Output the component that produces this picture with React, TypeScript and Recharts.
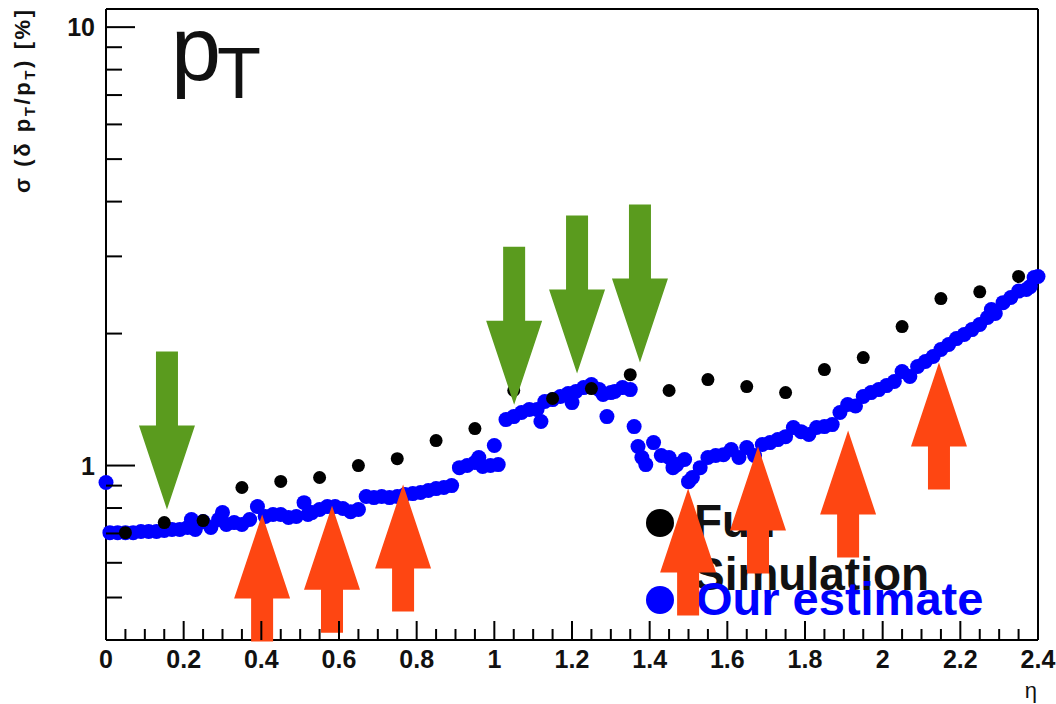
import React from 'react';
import { ScatterChart, Scatter, XAxis, YAxis, ReferenceLine } from 'recharts';

// Full simulation, one point per 0.1 bin in eta
const fullSimEta = [0.05, 0.15, 0.25, 0.35, 0.45, 0.55, 0.65, 0.75, 0.85, 0.95, 1.05, 1.15, 1.25, 1.35, 1.45, 1.55, 1.65, 1.75, 1.85, 1.95, 2.05, 2.15, 2.25, 2.35];
const fullSimSigma = [0.703, 0.741, 0.749, 0.891, 0.92, 0.939, 1.0, 1.037, 1.14, 1.214, 1.483, 1.422, 1.498, 1.612, 1.483, 1.571, 1.514, 1.467, 1.655, 1.763, 2.075, 2.403, 2.49, 2.7];

// Our estimate, finer binning
const estimateEta = [
  0.0, 0.01, 0.03, 0.05, 0.07, 0.09, 0.11, 0.13, 0.15, 0.17, 0.19, 0.21, 0.22, 0.23, 0.25, 0.27, 0.29, 0.3, 0.31, 0.33,
  0.35, 0.37, 0.39, 0.41, 0.43, 0.45, 0.47, 0.49, 0.51, 0.52, 0.53, 0.55, 0.57, 0.59, 0.61, 0.63, 0.65, 0.67, 0.69, 0.71,
  0.73, 0.75, 0.77, 0.79, 0.81, 0.83, 0.85, 0.87, 0.89, 0.91, 0.93, 0.95, 0.96, 0.97, 0.99, 1.0, 1.01, 1.03, 1.05, 1.07,
  1.09, 1.11, 1.12, 1.13, 1.15, 1.17, 1.19, 1.2, 1.21, 1.23, 1.25, 1.27, 1.28, 1.29, 1.3, 1.31, 1.33, 1.35, 1.36, 1.37,
  1.38, 1.39, 1.41, 1.43, 1.45, 1.46, 1.47, 1.49, 1.5, 1.51, 1.53, 1.55, 1.57, 1.59, 1.61, 1.63, 1.65, 1.67, 1.69, 1.71,
  1.73, 1.75, 1.77, 1.79, 1.81, 1.83, 1.85, 1.87, 1.89, 1.91, 1.93, 1.95, 1.97, 1.99, 2.01, 2.03, 2.05, 2.07, 2.09, 2.11,
  2.13, 2.15, 2.17, 2.19, 2.21, 2.23, 2.25, 2.27, 2.28, 2.29, 2.31, 2.33, 2.35, 2.37, 2.38, 2.39, 2.4,
];
const estimateSigma = [
  0.915, 0.703, 0.703, 0.703, 0.703, 0.707, 0.707, 0.707, 0.711, 0.715, 0.715, 0.722, 0.753, 0.715, 0.745, 0.722, 0.753, 0.781, 0.734, 0.741,
  0.734, 0.753, 0.806, 0.765, 0.773, 0.773, 0.761, 0.765, 0.823, 0.773, 0.781, 0.794, 0.806, 0.806, 0.798, 0.785, 0.794, 0.85, 0.845, 0.85,
  0.845, 0.85, 0.859, 0.863, 0.868, 0.877, 0.886, 0.891, 0.9, 0.989, 1.0, 1.016, 1.043, 0.995, 1.0, 1.111, 1.005, 1.273, 1.293, 1.321,
  1.342, 1.342, 1.26, 1.4, 1.414, 1.437, 1.46, 1.392, 1.475, 1.506, 1.53, 1.49, 1.452, 1.293, 1.467, 1.475, 1.506, 1.49, 1.227, 1.105,
  1.043, 1.005, 1.128, 1.054, 1.043, 0.989, 1.005, 1.032, 0.919, 0.939, 0.989, 1.043, 1.054, 1.059, 1.088, 1.043, 1.099, 1.054, 1.117, 1.128,
  1.146, 1.164, 1.221, 1.195, 1.177, 1.221, 1.227, 1.24, 1.321, 1.378, 1.367, 1.437, 1.467, 1.49, 1.522, 1.555, 1.638, 1.596, 1.682, 1.727,
  1.773, 1.839, 1.888, 1.948, 1.99, 2.042, 2.097, 2.176, 2.269, 2.222, 2.353, 2.417, 2.5, 2.52, 2.56, 2.684, 2.7,
];

// Arrow annotations: tip position in (eta, sigma)
const downArrowEta = [0.157, 1.051, 1.213, 1.375];
const downArrowSigma = [0.794, 1.377, 1.621, 1.718];
const upArrowEta = [0.402, 0.582, 0.765, 1.499, 1.679, 1.911, 2.145];
const upArrowSigma = [0.773, 0.81, 0.905, 0.886, 1.105, 1.202, 1.718];

const xTicks = [
  0, 0.05, 0.1, 0.15, 0.2, 0.25, 0.3, 0.35, 0.4, 0.45, 0.5, 0.55, 0.6, 0.65, 0.7, 0.75, 0.8, 0.85, 0.9, 0.95,
  1, 1.05, 1.1, 1.15, 1.2, 1.25, 1.3, 1.35, 1.4, 1.45, 1.5, 1.55, 1.6, 1.65, 1.7, 1.75, 1.8, 1.85, 1.9, 1.95,
  2, 2.05, 2.1, 2.15, 2.2, 2.25, 2.3, 2.35, 2.4,
];
const yTicks = [0.5, 0.6, 0.7, 0.8, 0.9, 1, 2, 3, 4, 5, 6, 7, 8, 9, 10];
const yLabelled = [1, 10];

const FONT = '"Liberation Sans", Arial, Helvetica, sans-serif';
const BLUE = '#0000ff';
const GREEN = '#5a9b1e';
const ORANGE = '#fe4612';

const zip = (xs: number[], ys: number[]) => xs.map((eta, i) => ({ eta, sigma: ys[i] }));

const XTick = (props: any) => {
  const { x, y, payload } = props;
  const v: number = payload.value;
  const major = Math.abs(v * 5 - Math.round(v * 5)) < 1e-6;
  const label = Number.isInteger(v) ? String(v) : v.toFixed(1);
  return (
    <g>
      <line x1={x} x2={x} y1={y} y2={y - (major ? 19 : 11)} stroke="#000" strokeWidth={2} />
      {major && (
        <text x={x} y={y + 28} textAnchor="middle" fontFamily={FONT} fontWeight="bold" fontSize={25} fill="#111">
          {label}
        </text>
      )}
    </g>
  );
};

const YTick = (props: any) => {
  const { x, y, payload } = props;
  const v: number = payload.value;
  const major = yLabelled.includes(v);
  return (
    <g>
      <line x1={x} x2={x + (major ? 29 : 16)} y1={y} y2={y} stroke="#000" strokeWidth={2} />
      {major && (
        <text x={x - 11} y={y + 9} textAnchor="end" fontFamily={FONT} fontWeight="bold" fontSize={25} fill="#111">
          {v}
        </text>
      )}
    </g>
  );
};

const DownArrow = ({ cx, cy }: any) => {
  const head = 84, total = 158, hw = 28, sw = 11;
  const pts = [
    [cx - sw, cy - total], [cx + sw, cy - total], [cx + sw, cy - head], [cx + hw, cy - head],
    [cx, cy], [cx - hw, cy - head], [cx - sw, cy - head],
  ];
  return <polygon points={pts.map((p) => p.join(',')).join(' ')} fill={GREEN} />;
};

const UpArrow = ({ cx, cy }: any) => {
  const head = 84, total = 127, hw = 28, sw = 11;
  const pts = [
    [cx, cy], [cx + hw, cy + head], [cx + sw, cy + head], [cx + sw, cy + total],
    [cx - sw, cy + total], [cx - sw, cy + head], [cx - hw, cy + head],
  ];
  return <polygon points={pts.map((p) => p.join(',')).join(' ')} fill={ORANGE} />;
};

// Title, axis titles and legend sit underneath the chart svg
const Decorations = () => (
  <svg width={1056} height={704} style={{ position: 'absolute', left: 0, top: 0 }}>
    <text x={171} y={80} fontFamily={FONT} fontSize={90} fill="#111">
      p
      <tspan dx={-4} dy={18} fontSize={72}>T</tspan>
    </text>
    <text
      transform="translate(30,193) rotate(-90)"
      fontFamily={FONT}
      fontWeight="bold"
      fontSize={22}
      fill="#111"
      textLength={183}
      lengthAdjust="spacing"
    >
      σ (δ p<tspan dy={5} fontSize={15}>T</tspan>
      <tspan dy={-5}>/p</tspan>
      <tspan dy={5} fontSize={15}>T</tspan>
      <tspan dy={-5}>) [%]</tspan>
    </text>
    <text x={1037} y={698} textAnchor="end" fontFamily={FONT} fontSize={22} fill="#111">
      η
    </text>

    <circle cx={660} cy={523} r={14} fill="#000" />
    <text x={694} y={537} fontFamily={FONT} fontWeight="bold" fontSize={46} fill="#111">Full</text>
    <text x={694} y={590} fontFamily={FONT} fontWeight="bold" fontSize={46} fill="#111">Simulation</text>
    <circle cx={660} cy={600} r={14} fill={BLUE} />
    <text x={696} y={615} fontFamily={FONT} fontWeight="bold" fontSize={47} fill={BLUE}>Our estimate</text>
  </svg>
);

export default function App() {
  return (
    <div style={{ position: 'absolute', left: 0, top: 0, width: 1056, height: 704, background: '#fff' }}>
      <Decorations />
      <div style={{ position: 'absolute', left: 0, top: 0 }}>
        <ScatterChart width={1056} height={704} margin={{ top: 9, right: 18, bottom: 34, left: 46 }}>
          <XAxis
            type="number"
            dataKey="eta"
            domain={[0, 2.4]}
            ticks={xTicks}
            interval={0}
            tickSize={0}
            tickMargin={0}
            tickLine={false}
            tick={(p: any) => <XTick {...p} />}
            axisLine={{ stroke: '#000', strokeWidth: 2 }}
            height={30}
          />
          <YAxis
            type="number"
            dataKey="sigma"
            scale="log"
            domain={[0.4, 11]}
            ticks={yTicks}
            interval={0}
            tickSize={0}
            tickMargin={0}
            tickLine={false}
            tick={(p: any) => <YTick {...p} />}
            axisLine={{ stroke: '#000', strokeWidth: 2 }}
            width={60}
          />
          <ReferenceLine y={11} stroke="#000" strokeWidth={2} />
          <ReferenceLine x={2.4} stroke="#000" strokeWidth={2} />
          <Scatter
            data={zip(estimateEta, estimateSigma)}
            isAnimationActive={false}
            shape={(p: any) => <circle cx={p.cx} cy={p.cy} r={7.5} fill={BLUE} />}
          />
          <Scatter
            data={zip(fullSimEta, fullSimSigma)}
            isAnimationActive={false}
            shape={(p: any) => <circle cx={p.cx} cy={p.cy} r={6.5} fill="#000" />}
          />
          <Scatter
            data={zip(downArrowEta, downArrowSigma)}
            isAnimationActive={false}
            shape={(p: any) => <DownArrow cx={p.cx} cy={p.cy} />}
          />
          <Scatter
            data={zip(upArrowEta, upArrowSigma)}
            isAnimationActive={false}
            shape={(p: any) => <UpArrow cx={p.cx} cy={p.cy} />}
          />
        </ScatterChart>
      </div>
    </div>
  );
}
